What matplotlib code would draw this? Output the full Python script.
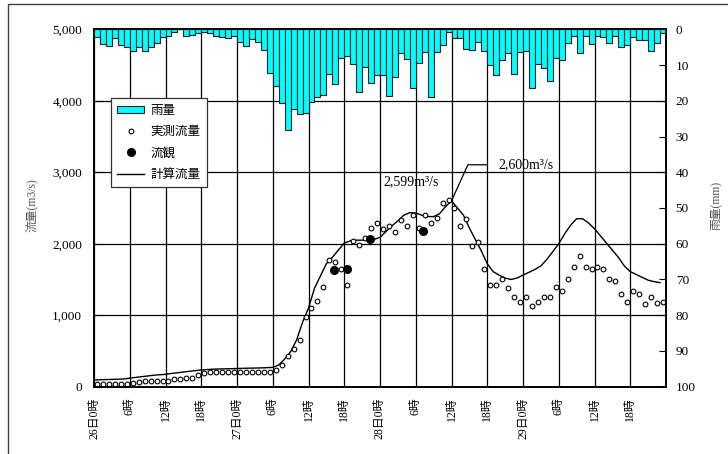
# 洪水流量と雨量のハイドログラフ
import numpy as np
import matplotlib
matplotlib.use("Agg")
import matplotlib.pyplot as plt
from matplotlib.patches import Rectangle
from matplotlib.lines import Line2D
from matplotlib.ticker import FuncFormatter

plt.rcParams['font.family'] = ['Liberation Serif', 'Noto Sans CJK JP']

# 時間雨量 (mm), 26日0時から1時間ごと
rain = [2.2, 4.1, 4.7, 2.5, 4.4, 4.9, 6.1, 5.0, 6.1, 4.9, 3.7, 2.2,
        1.9, 0.8, 0.0, 1.9, 1.6, 1.1, 0.7, 1.1, 1.9, 2.2, 2.5, 1.9,
        3.5, 4.7, 2.8, 3.5, 5.8, 12.1, 15.9, 20.7, 28.2, 22.4, 23.8, 23.4,
        20.3, 18.9, 18.4, 12.6, 15.3, 8.1, 7.5, 9.8, 17.5, 10.6, 15.0, 12.8,
        12.8, 18.7, 13.3, 6.7, 8.4, 16.4, 9.4, 6.4, 18.9, 6.4, 4.4, 0.7,
        2.5, 2.5, 5.6, 5.8, 3.5, 6.1, 10.0, 12.8, 8.6, 6.7, 12.5, 6.4,
        6.0, 16.4, 9.8, 10.9, 14.4, 8.0, 8.6, 3.7, 1.9, 6.7, 2.0, 4.1,
        1.9, 2.2, 3.7, 2.0, 5.0, 4.4, 2.2, 3.0, 3.0, 6.0, 3.9, 0.9]

# 実測流量 (m3/s)
observed = [33, 33, 33, 33, 33, 33, 45, 61, 75, 84, 84, 84,
            84, 103, 103, 122, 122, 159, 196, 206, 206, 206, 206, 206,
            206, 206, 206, 206, 206, 206, 234, 299, 429, 527, 653, 979,
            1096, 1203, 1390, 1772, 1748, 1650, 1422, 2042, 1982, 2075, 2224, 2285,
            2205, 2252, 2159, 2331, 2252, 2401, 2224, 2401, 2285, 2355, 2573, 2611,
            2494, 2252, 2341, 1968, 2024, 1646, 1422, 1422, 1506, 1376, 1250, 1180,
            1250, 1133, 1180, 1250, 1250, 1390, 1343, 1502, 1678, 1823, 1678, 1646,
            1678, 1646, 1506, 1474, 1296, 1180, 1343, 1296, 1152, 1250, 1166, 1180]

# 計算流量 (m3/s)
calculated = [94, 97, 100, 102, 105, 108, 120, 130, 140, 150, 160, 167,
              173, 185, 195, 205, 215, 225, 234, 240, 245, 248, 250, 252,
              255, 257, 259, 261, 263, 266, 271, 303, 387, 490, 653, 900,
              1100, 1376, 1550, 1720, 1810, 1910, 2010, 2040, 2050, 2050, 2045, 2060,
              2090, 2170, 2250, 2320, 2400, 2435, 2430, 2400, 2380, 2380, 2420, 2520,
              2600, 2500, 2400, 2220, 2060, 1900, 1720, 1610, 1560, 1520, 1500, 1520,
              1560, 1600, 1640, 1690, 1780, 1890, 2000, 2140, 2260, 2350, 2350, 2290,
              2210, 2110, 2010, 1910, 1810, 1690, 1610, 1570, 1530, 1490, 1470, 1455]

# 流観 (hour, m3/s)
kanso_hour = [40.3, 42.4, 46.3, 55.3]
kanso_flow = [1632, 1650, 2066, 2180]

tick_hours = list(range(0, 96, 6))
tick_labels = ['26日0時', '6時', '12時', '18時', '27日0時', '6時', '12時', '18時',
               '28日0時', '6時', '12時', '18時', '29日0時', '6時', '12時', '18時']

hours = np.arange(len(rain))

fig = plt.figure(figsize=(7.28, 4.54), dpi=100)
ax = fig.add_axes([94/728, 1 - 386.7/454, 572/728, 357.4/454])
ax2 = ax.twinx()

# 外枠
fig.patches.append(Rectangle((8/728, -0.1), 1.2, 1.1 - 4/454, transform=fig.transFigure,
                             fill=False, edgecolor='#404040', linewidth=1.0))

# 流量
ax.plot(hours, calculated, color='black', lw=1.0, zorder=3)
ax.plot(hours + 0.5, observed, 'o', ms=3.4, mfc='white', mec='black', mew=0.8, zorder=4)
ax.plot(kanso_hour, kanso_flow, 'o', ms=5.5, color='black', zorder=5)

ax.set_xlim(0, 96)
ax.set_ylim(0, 5000)
ax.set_yticks(range(0, 5001, 1000))
ax.yaxis.set_major_formatter(FuncFormatter(lambda v, p: f'{int(v):,}'))
ax.set_xticks(tick_hours)
ax.set_xticklabels(tick_labels, rotation=90, va='top', ha='center', fontsize=8.5)
ax.tick_params(axis='x', length=0, pad=8)
ax.tick_params(axis='y', direction='in', length=5, pad=8.5, labelsize=9.5)
ax.grid(True, color='black', lw=0.9)
ax.set_axisbelow(True)
ax.set_ylabel('流量(m3/s)', color='#555555', fontsize=8.5)
ax.yaxis.set_label_coords(-0.098, 0.508)

# 雨量
ax2.bar(hours, rain, width=1.0, align='edge', color='#00FFFF', edgecolor='#222222',
        linewidth=0.8, zorder=2)
ax2.set_ylim(100, 0)
ax2.set_yticks(range(0, 101, 10))
ax2.tick_params(axis='y', direction='in', length=5, pad=7, labelsize=9.5)
ax2.set_ylabel('雨量(mm)', color='#555555', fontsize=8.5)
ax2.yaxis.set_label_coords(1.077, 0.508)

for a in (ax, ax2):
    for s in a.spines.values():
        s.set_linewidth(1.2)

# ピーク注記
ax.text(48.5, 2863, '2,599m³/s', fontsize=10, va='center', ha='left', zorder=6)
ax.plot([60, 62.75, 65.9], [2600, 3105, 3105], color='black', lw=0.9, zorder=6)
ax.text(67.9, 3105, '2,600m³/s', fontsize=10, va='center', ha='left', zorder=6)

# 凡例
handles = [Rectangle((0, 0), 1, 1, facecolor='#00FFFF', edgecolor='#222222', lw=0.8),
           Line2D([], [], ls='none', marker='o', ms=3.4, mfc='white', mec='black', mew=0.8),
           Line2D([], [], ls='none', marker='o', ms=5.5, color='black'),
           Line2D([], [], color='black', lw=1.0)]
labels = ['雨量', '実測流量', '流観', '計算流量']
leg = ax2.legend(handles, labels, loc='upper left',
                 bbox_to_anchor=(110.7/728, 1 - 98.3/454), bbox_transform=fig.transFigure,
                 borderaxespad=0, fancybox=False, framealpha=1, edgecolor='#333333',
                 fontsize=9, handlelength=2.2, handleheight=0.5, labelspacing=0.75,
                 handletextpad=0.5, borderpad=0.5)
leg.get_frame().set_linewidth(0.9)
leg.set_zorder(10)

fig.savefig('out.png', dpi=100)
